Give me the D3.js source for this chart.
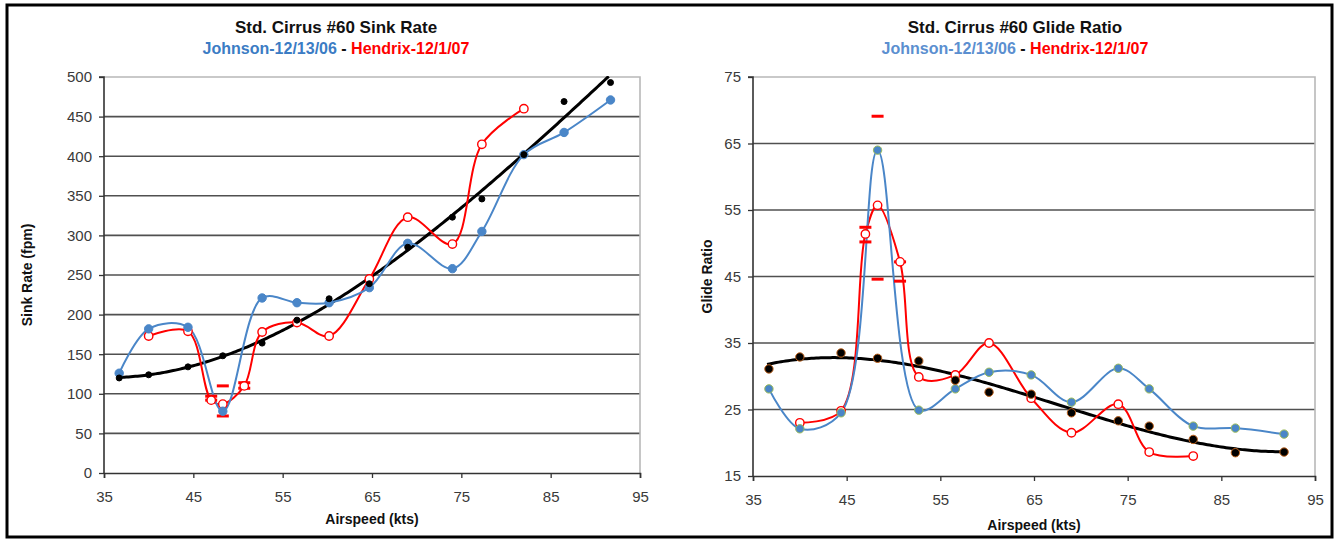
<!DOCTYPE html>
<html>
<head>
<meta charset="utf-8">
<script src="https://cdn.jsdelivr.net/npm/d3@7"></script>
<style>
  body { margin: 0; background: #fff; }
  text { font-family: "Liberation Sans", Arial, sans-serif; }
</style>
</head>
<body>
<svg id="chart" width="1338" height="540"></svg>
<script>
// Johnson (blue) and fitted polar (black) share the same airspeeds
const johnsonSpeed = [36.7, 40.0, 44.4, 48.3, 52.7, 56.6, 60.2, 64.7, 69.0, 74.0, 77.3, 82.0, 86.5, 91.7];
const johnsonSink = [126, 182, 184, 78, 221, 215, 215, 234, 290, 258, 305, 402, 430, 471];
const johnsonGlide = [28.1, 22.1, 24.5, 64.0, 24.9, 28.1, 30.6, 30.2, 26.1, 31.2, 28.1, 22.5, 22.2, 21.3];

const polarSink = [120, 124, 134, 148, 164, 193, 220, 239, 285, 323, 346, 402, 469, 493];
const polarGlide = [31.1, 32.9, 33.5, 32.7, 32.3, 29.4, 27.6, 27.3, 24.5, 23.3, 22.5, 20.5, 18.5, 18.6];

const hendrixSpeed = [40.0, 44.4, 47.0, 48.3, 50.7, 52.7, 56.6, 60.2, 64.7, 69.0, 74.0, 77.3, 82.0];
const hendrixSink = [173, 179, 92, 87, 110, 178, 190, 173, 245, 323, 289, 415, 460];
const hendrixGlide = [23.0, 24.8, 51.4, 55.7, 47.2, 29.9, 30.2, 35.0, 26.7, 21.5, 25.8, 18.6, 18.0];

// error bar ends for Hendrix
const errSpeed = [47.0, 48.3, 50.7];
const errSinkHi = [97, 110, 114];
const errSinkLo = [92, 72, 107];
const errGlideHi = [52.4, 69.1, 47.2];
const errGlideLo = [50.2, 44.6, 44.3];

const xTicks = [35, 45, 55, 65, 75, 85, 95];
const sinkTicks = [0, 50, 100, 150, 200, 250, 300, 350, 400, 450, 500];
const glideTicks = [15, 25, 35, 45, 55, 65, 75];

const BLUE = "#4a86c8", RED = "#ff0000";

// least squares polynomial for the trend line
function polyfit(xs, ys, deg) {
  const n = deg + 1;
  const m = d3.mean(xs);
  const A = Array.from({ length: n }, () => new Array(n + 1).fill(0));
  xs.forEach((x0, k) => {
    const x = (x0 - m) / 10;
    for (let i = 0; i < n; i++) {
      for (let j = 0; j < n; j++) A[i][j] += Math.pow(x, i + j);
      A[i][n] += ys[k] * Math.pow(x, i);
    }
  });
  for (let i = 0; i < n; i++) {
    let p = i;
    for (let r = i + 1; r < n; r++) if (Math.abs(A[r][i]) > Math.abs(A[p][i])) p = r;
    [A[i], A[p]] = [A[p], A[i]];
    for (let r = 0; r < n; r++) {
      if (r === i) continue;
      const f = A[r][i] / A[i][i];
      for (let c = i; c <= n; c++) A[r][c] -= f * A[i][c];
    }
  }
  const coef = A.map((row, i) => row[n] / row[i]);
  return (x0) => {
    const x = (x0 - m) / 10;
    return coef.reduce((s, c, i) => s + c * Math.pow(x, i), 0);
  };
}

const svg = d3.select("#chart");

svg.append("rect")
  .attr("x", 7).attr("y", 5).attr("width", 1325).attr("height", 532)
  .attr("fill", "none").attr("stroke", "#000").attr("stroke-width", 3);

function drawPanel(cfg) {
  const x = d3.scaleLinear().domain([35, 95]).range([cfg.left, cfg.right]);
  const y = d3.scaleLinear().domain(cfg.yDomain).range([cfg.bottom, cfg.top]);
  const g = svg.append("g");

  const clipId = "clip-" + cfg.id;
  g.append("clipPath").attr("id", clipId)
    .append("rect")
    .attr("x", cfg.left).attr("y", cfg.top - 1)
    .attr("width", cfg.right - cfg.left).attr("height", cfg.bottom - cfg.top + 1);

  // grid lines
  g.selectAll(".grid")
    .data(cfg.yTicks.slice(1, -1))
    .enter().append("line")
    .attr("x1", cfg.left).attr("x2", cfg.right)
    .attr("y1", (d) => y(d)).attr("y2", (d) => y(d))
    .attr("stroke", "#505050").attr("stroke-width", 1.6);

  // plot frame top/right
  g.append("path")
    .attr("d", `M${cfg.left},${cfg.top}H${cfg.right}V${cfg.bottom}`)
    .attr("fill", "none").attr("stroke", "#b8b8b8").attr("stroke-width", 1.6);

  // axes
  const yAxis = g.append("g")
    .attr("transform", `translate(${cfg.left},0)`)
    .call(d3.axisLeft(y).tickValues(cfg.yTicks).tickSize(5).tickPadding(7));
  const xAxis = g.append("g")
    .attr("transform", `translate(0,${cfg.bottom})`)
    .call(d3.axisBottom(x).tickValues(xTicks).tickSize(5).tickPadding(10));
  [xAxis, yAxis].forEach((a) => {
    a.select(".domain").attr("stroke", "#333").attr("stroke-width", 1.6);
    a.selectAll(".tick line").attr("stroke", "#333").attr("stroke-width", 1.3);
    a.selectAll("text").attr("font-size", 15).attr("fill", "#3a3a3a")
      .style("font-family", "Liberation Sans, Arial, sans-serif");
  });
  xAxis.selectAll("text").attr("dy", "0.9em");
  yAxis.select(".domain").attr("d", `M-5,${cfg.top}H0V${cfg.bottom}`);

  const plot = g.append("g").attr("clip-path", `url(#${clipId})`);
  const smooth = d3.line().curve(d3.curveCatmullRom.alpha(0.5))
    .x((d) => x(d[0])).y((d) => y(d[1]));

  // black trend line
  const fit = polyfit(johnsonSpeed, cfg.polar, cfg.fitDeg);
  const fitPts = d3.range(johnsonSpeed[0] - 0.2, johnsonSpeed[johnsonSpeed.length - 1] + 0.01, 0.25)
    .map((s) => [s, fit(s)]);
  plot.append("path")
    .attr("d", d3.line().x((d) => x(d[0])).y((d) => y(d[1]))(fitPts))
    .attr("fill", "none").attr("stroke", "#000").attr("stroke-width", 3);

  const jPts = johnsonSpeed.map((s, i) => [s, cfg.johnson[i]]);
  const hPts = hendrixSpeed.map((s, i) => [s, cfg.hendrix[i]]);

  plot.append("path").attr("d", smooth(hPts))
    .attr("fill", "none").attr("stroke", RED).attr("stroke-width", 2);
  plot.append("path").attr("d", smooth(jPts))
    .attr("fill", "none").attr("stroke", BLUE).attr("stroke-width", 2);

  // error bar ends
  const errs = [];
  errSpeed.forEach((s, i) => {
    errs.push([s, cfg.errHi[i]]);
    errs.push([s, cfg.errLo[i]]);
  });
  plot.selectAll(".err").data(errs).enter().append("line")
    .attr("x1", (d) => x(d[0]) - 6).attr("x2", (d) => x(d[0]) + 6)
    .attr("y1", (d) => y(d[1])).attr("y2", (d) => y(d[1]))
    .attr("stroke", RED).attr("stroke-width", 3);

  // markers
  plot.selectAll(".hm").data(hPts).enter().append("circle")
    .attr("cx", (d) => x(d[0])).attr("cy", (d) => y(d[1])).attr("r", 4.2)
    .attr("fill", "#fff").attr("stroke", RED).attr("stroke-width", 1.4);
  plot.selectAll(".jm").data(jPts).enter().append("circle")
    .attr("cx", (d) => x(d[0])).attr("cy", (d) => y(d[1])).attr("r", 4.2)
    .attr("fill", BLUE).attr("stroke", cfg.blueRing).attr("stroke-width", 1);
  plot.selectAll(".pm").data(johnsonSpeed.map((s, i) => [s, cfg.polar[i]])).enter().append("circle")
    .attr("cx", (d) => x(d[0])).attr("cy", (d) => y(d[1])).attr("r", cfg.polarR)
    .attr("fill", "#000").attr("stroke", cfg.blackRing).attr("stroke-width", 1);

  // titles
  const cx = cfg.titleX;
  g.append("text").attr("x", cx).attr("y", 33).attr("text-anchor", "middle")
    .attr("font-size", 17).attr("font-weight", "bold").attr("fill", "#111")
    .text(cfg.title);
  const sub = g.append("text").attr("x", cx).attr("y", 54).attr("text-anchor", "middle")
    .attr("font-size", 16).attr("font-weight", "bold");
  sub.append("tspan").attr("fill", cfg.subBlue).text("Johnson-12/13/06");
  sub.append("tspan").attr("fill", "#111").text(" - ");
  sub.append("tspan").attr("fill", RED).text("Hendrix-12/1/07");

  g.append("text").attr("x", (cfg.left + cfg.right) / 2).attr("y", cfg.xTitleY)
    .attr("text-anchor", "middle").attr("font-size", 14).attr("font-weight", "bold")
    .attr("fill", "#111").text("Airspeed (kts)");
  g.append("text")
    .attr("transform", `translate(${cfg.yTitleX},${(cfg.top + cfg.bottom) / 2}) rotate(-90)`)
    .attr("text-anchor", "middle").attr("font-size", 14).attr("font-weight", "bold")
    .attr("fill", "#111").text(cfg.yTitle);
}

drawPanel({
  id: "sink", left: 104, right: 640, top: 77, bottom: 473,
  yDomain: [0, 500], yTicks: sinkTicks, fitDeg: 3,
  johnson: johnsonSink, hendrix: hendrixSink, polar: polarSink,
  errHi: errSinkHi, errLo: errSinkLo,
  blueRing: BLUE, blackRing: "#000", polarR: 3,
  title: "Std. Cirrus #60 Sink Rate", subBlue: "#3b7cc4", titleX: 336,
  xTitleY: 524, yTitleX: 32, yTitle: "Sink Rate (fpm)"
});

drawPanel({
  id: "glide", left: 753, right: 1315, top: 77, bottom: 476,
  yDomain: [15, 75], yTicks: glideTicks, fitDeg: 3,
  johnson: johnsonGlide, hendrix: hendrixGlide, polar: polarGlide,
  errHi: errGlideHi, errLo: errGlideLo,
  blueRing: "#9bbb59", blackRing: "#c0641e", polarR: 4.2,
  title: "Std. Cirrus #60 Glide Ratio", subBlue: "#5b8fd0", titleX: 1015,
  xTitleY: 530, yTitleX: 712, yTitle: "Glide Ratio"
});
</script>
</body>
</html>
